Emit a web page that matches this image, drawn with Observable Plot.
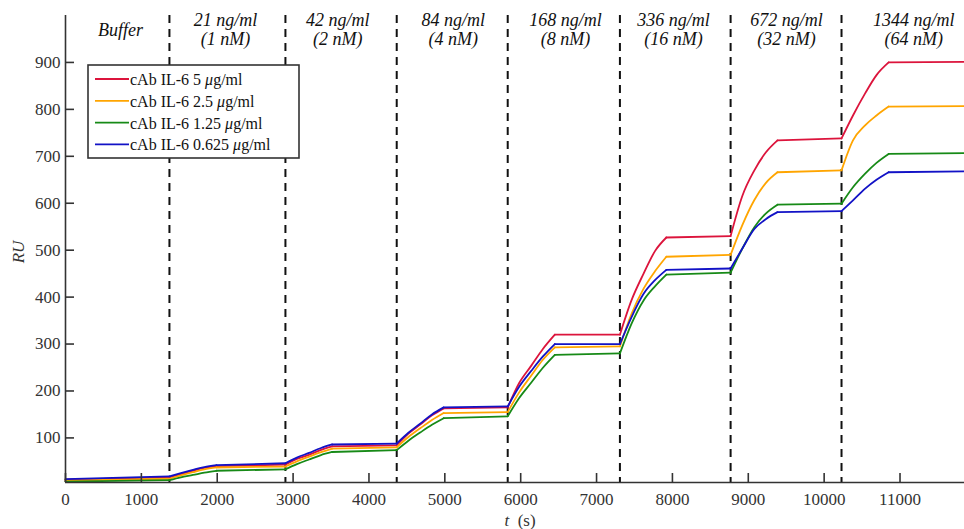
<!DOCTYPE html>
<html><head><meta charset="utf-8">
<script src="https://cdn.jsdelivr.net/npm/d3@7"></script>
<script src="https://cdn.jsdelivr.net/npm/@observablehq/plot@0.6"></script>
<style>
body{margin:0;background:#fff}
#chart{width:964px;height:529px}
#chart svg, #chart svg text{font-family:'Liberation Serif','Times New Roman',serif !important}
</style>
</head><body><div id="chart"></div>
<script>
// time points (s) shared by all four sensorgrams
const times = [0, 1370,1520,1680,1830,1990, 2899,3050,3210,3360,3515, 4366,4520,4680,4830,4985,
  5829,5980,6140,6290,6450, 7308,7460,7620,7770,7920, 8767,8920,9080,9230,9385,
  10229,10380,10540,10690,10850, 11850];
const ru5 = [11, 16,23,30,36,40, 43,55,64,74,82, 84,109,129,148,163, 165,217,254,289,320,
  320,393,450,498,527, 530,615,670,708,734, 738,787,834,873,900, 901];
const ru25 = [9, 13,20,27,33,37, 39,50,60,69,77, 80,102,121,138,153, 155,197,233,266,293,
  295,364,418,455,486, 490,553,607,643,666, 670,734,766,787,806, 807];
const ru125 = [7, 10,16,21,26,30, 33,44,54,63,70, 74,94,112,128,142, 146,185,218,249,277,
  280,343,393,423,448, 452,503,549,578,597, 599,634,663,686,705, 707];
const ru0625 = [12, 18,25,32,38,42, 46,58,68,78,86, 88,111,131,150,165, 167,209,243,273,300,
  300,357,407,436,458, 461,503,545,566,581, 583,606,631,650,666, 668];

const seriesNames = ["cAb IL-6 5", "cAb IL-6 2.5", "cAb IL-6 1.25", "cAb IL-6 0.625"];
const seriesUnit = "g/ml";
const seriesColors = ["#dc143c", "#ffa500", "#178a17", "#1212c6"];

// injection starts (dashed lines); association lasts until the following plateau
const boundaries = [1370, 2899, 4366, 5829, 7308, 8767, 10229];
const plateauStarts = [1990, 3515, 4985, 6450, 7920, 9385, 10850];
const phaseLabels = ["Buffer", "21 ng/ml\n(1 nM)", "42 ng/ml\n(2 nM)", "84 ng/ml\n(4 nM)",
  "168 ng/ml\n(8 nM)", "336 ng/ml\n(16 nM)", "672 ng/ml\n(32 nM)", "1344 ng/ml\n(64 nM)"];
const labelT = [725, 2110, 3590, 5110, 6590, 8015, 9505, 11180];

const xTicks = [0,1000,2000,3000,4000,5000,6000,7000,8000,9000,10000,11000];
const yTicks = [100,200,300,400,500,600,700,800,900];
const xDomain = [0, 11850];
const yDomain = [5, 1000];

// split each sensorgram into association (curved) and plateau pieces
const rows = [];
[ru5, ru25, ru125, ru0625].forEach((vals, i) => {
  let g = 0, prevType = null;
  for (let j = 0; j < times.length - 1; j++) {
    const t0 = times[j];
    const assoc = boundaries.some((b, k) => t0 >= b && t0 < plateauStarts[k]);
    if (assoc !== prevType) { g++; rows.push({t: t0, ru: vals[j], s: seriesNames[i], z: i + "-" + g}); prevType = assoc; }
    rows.push({t: times[j + 1], ru: vals[j + 1], s: seriesNames[i], z: i + "-" + g});
  }
});

const axisColor = "#333";
const plot = Plot.plot({
  width: 964, height: 529,
  marginLeft: 65, marginRight: 0, marginTop: 15, marginBottom: 47,
  style: {fontFamily: "'Liberation Serif', 'Times New Roman', serif", background: "white", color: axisColor},
  x: {domain: xDomain},
  y: {domain: yDomain},
  color: {domain: seriesNames, range: seriesColors},
  marks: [
    Plot.ruleX(boundaries, {stroke: "#111", strokeWidth: 2, strokeDasharray: "8,6"}),
    Plot.line(rows, {x: "t", y: "ru", z: "z", stroke: "s", strokeWidth: 1.8, curve: "monotone-x"}),
    Plot.ruleX([xDomain[0]], {stroke: axisColor, strokeWidth: 1.6}),
    Plot.ruleY([yDomain[0]], {stroke: axisColor, strokeWidth: 1.6}),
    Plot.axisX({ticks: xTicks, tickSize: -9, tickFormat: () => "", stroke: axisColor, strokeWidth: 1.6, label: null}),
    Plot.axisX({ticks: xTicks, tickSize: 0, tickPadding: 10, tickFormat: d => String(d), fontSize: 17, fill: axisColor, label: null}),
    Plot.axisY({ticks: yTicks, tickSize: -9, tickFormat: () => "", stroke: axisColor, strokeWidth: 1.6, label: null}),
    Plot.axisY({ticks: yTicks, tickSize: 0, tickPadding: 5, tickFormat: d => String(d), fontSize: 17, fill: axisColor, label: null, style: {letterSpacing: "2px"}}),
    Plot.text(phaseLabels, {x: (d, i) => labelT[i], text: d => d, frameAnchor: "top", dy: 14,
      lineAnchor: "middle", lineHeight: 1.05, fontSize: 18, fontStyle: "italic", fill: "#111"})
  ]
});
document.getElementById("chart").appendChild(plot);

const svg = d3.select(plot);
// axis titles
svg.append("text").attr("transform", "translate(24,252) rotate(-90)").attr("text-anchor", "middle")
  .attr("font-size", 17).attr("font-style", "italic").attr("fill", axisColor).text("RU");
const xl = svg.append("text").attr("x", 520).attr("y", 526).attr("text-anchor", "middle")
  .attr("font-size", 17).attr("fill", axisColor);
xl.append("tspan").attr("font-style", "italic").text("t");
xl.append("tspan").attr("xml:space", "preserve").text("  (s)");

// legend
const lg = svg.append("g");
lg.append("rect").attr("x", 88).attr("y", 65).attr("width", 211).attr("height", 93)
  .attr("fill", "white").attr("stroke", axisColor).attr("stroke-width", 1.6);
seriesNames.forEach((name, i) => {
  const y = 79 + i * 21.8;
  lg.append("line").attr("x1", 95).attr("x2", 129).attr("y1", y).attr("y2", y)
    .attr("stroke", seriesColors[i]).attr("stroke-width", 1.8);
  const t = lg.append("text").attr("x", 130).attr("y", y + 6).attr("text-anchor", "start")
    .attr("font-size", 16).attr("fill", "#111");
  t.append("tspan").text(name + " ");
  t.append("tspan").attr("font-style", "italic").text("\u03bc");
  t.append("tspan").text(seriesUnit);
});
</script>
</body></html>
